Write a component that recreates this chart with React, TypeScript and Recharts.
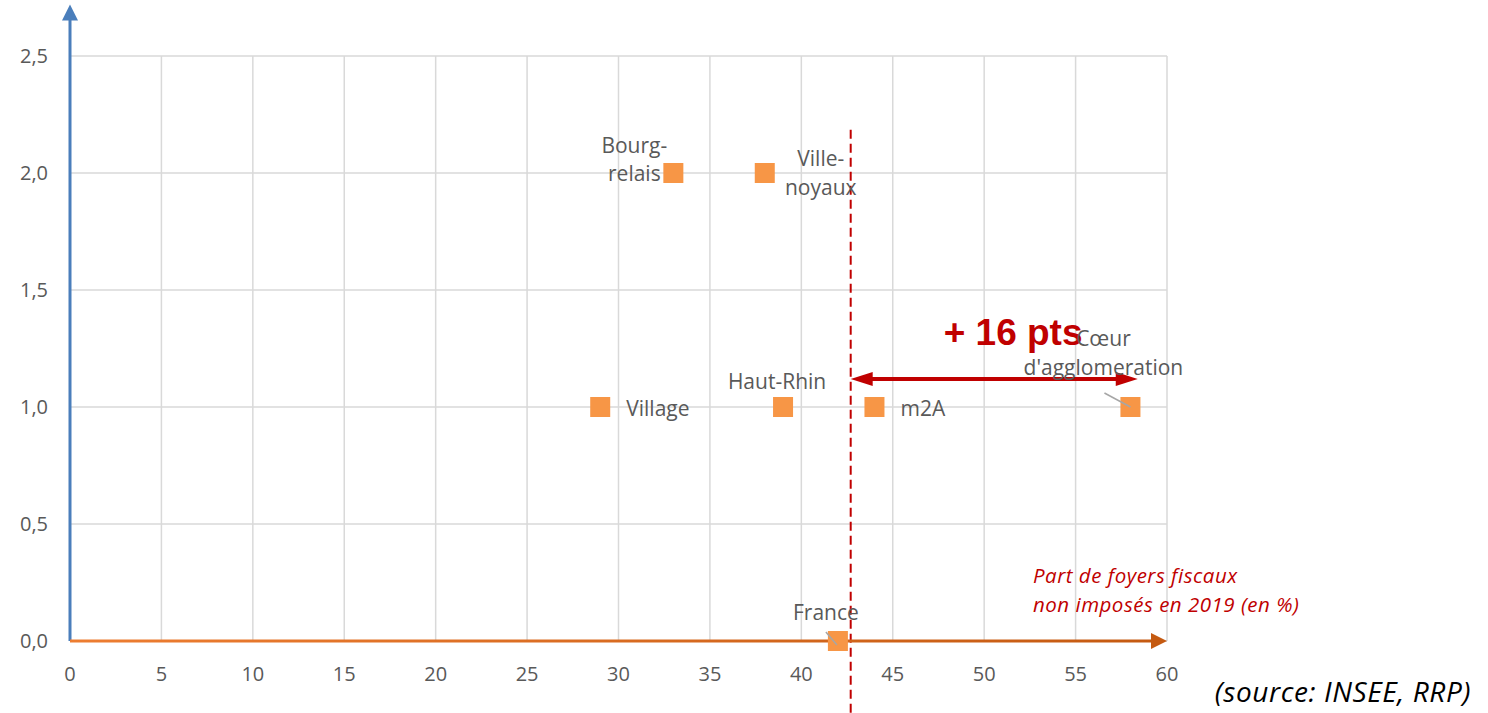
import React from 'react';
import { ScatterChart, Scatter, XAxis, YAxis, CartesianGrid, ReferenceLine } from 'recharts';

const names = ['Bourg-relais', 'Ville-noyaux', 'Village', 'Haut-Rhin', 'm2A', "Cœur d'agglomeration", 'France'];
const labelLines = [['Bourg-', 'relais'], ['Ville-', 'noyaux'], ['Village'], ['Haut-Rhin'], ['m2A'], ['Cœur', "d'agglomeration"], ['France']];
const xValues = [33, 38, 29, 39, 44, 58, 42];
const yValues = [2, 2, 1, 1, 1, 1, 0];
const xTicks = [0, 5, 10, 15, 20, 25, 30, 35, 40, 45, 50, 55, 60];
const yTicks = [0, 0.5, 1, 1.5, 2, 2.5];
const refX = 42.7;
const gapStart = 42.7;
const gapEnd = 58.4;
const gapY = 1.12;
const gapLabel = '+ 16 pts';
const axisLabelLines = ['Part de foyers fiscaux', 'non imposés en 2019 (en %)'];
const sourceText = '(source: INSEE, RRP)';

const points = names.map((n, i) => ({ name: n, x: xValues[i], y: yValues[i], lines: labelLines[i], idx: i }));

// label placement (styling only)
const labelLayout: { anchor: 'start' | 'middle' | 'end'; dx: number; dys: number[]; leader?: number[] }[] = [
  { anchor: 'middle', dx: -39, dys: [-28, 0] },
  { anchor: 'middle', dx: 56, dys: [-15, 14] },
  { anchor: 'start', dx: 26, dys: [1] },
  { anchor: 'middle', dx: -6, dys: [-26] },
  { anchor: 'start', dx: 26, dys: [1] },
  { anchor: 'middle', dx: -27, dys: [-69, -40], leader: [-26, -14, 0, 0] },
  { anchor: 'middle', dx: -12, dys: [-29], leader: [-12, -9, -1, 4] },
];

const FONT = "'Open Sans', sans-serif";
const TXT = '#595959';

const PointShape = (props: any) => {
  const { cx, cy, payload } = props;
  if (cx == null || cy == null) return null;
  const L = labelLayout[payload.idx];
  return (
    <g>
      <rect x={cx - 10} y={cy - 10} width={20} height={20} fill="#F79646" />
      {L.leader && (
        <line x1={cx + L.leader[0]} y1={cy + L.leader[1]} x2={cx + L.leader[2]} y2={cy + L.leader[3]} stroke="#A6A6A6" strokeWidth={1.5} />
      )}
      {payload.lines.map((t: string, k: number) => (
        <text key={k} x={cx + L.dx} y={cy + L.dys[k]} textAnchor={L.anchor} dominantBaseline="central" fontFamily={FONT} fontSize={21} fill={TXT}>
          {t}
        </text>
      ))}
    </g>
  );
};

const YArrow = (p: any) => {
  const { x1, y1, x2, y2 } = p;
  return (
    <g>
      <line x1={x1} y1={y1} x2={x2} y2={y2 + 14} stroke="#4A7EBB" strokeWidth={3} />
      <polygon points={`${x2},${y2} ${x2 - 8},${y2 + 16} ${x2 + 8},${y2 + 16}`} fill="#4A7EBB" />
    </g>
  );
};

const XArrow = (p: any) => {
  const { x1, y1, x2, y2 } = p;
  return (
    <g>
      <defs>
        <linearGradient id="xaxgrad" x1="0" y1="0" x2="1" y2="0">
          <stop offset="0%" stopColor="#ED7D31" />
          <stop offset="100%" stopColor="#C55A11" />
        </linearGradient>
      </defs>
      <rect x={x1} y={y1 - 1.5} width={x2 - x1 - 14} height={3} fill="url(#xaxgrad)" />
      <polygon points={`${x2},${y2} ${x2 - 16},${y2 - 8} ${x2 - 16},${y2 + 8}`} fill="#C55A11" />
    </g>
  );
};

const GapArrow = (p: any) => {
  const { x1, y1, x2, y2 } = p;
  const c = '#C00000';
  return (
    <g>
      <line x1={x1 + 18} y1={y1} x2={x2 - 18} y2={y2} stroke={c} strokeWidth={4} />
      <polygon points={`${x1},${y1} ${x1 + 22},${y1 - 7} ${x1 + 22},${y1 + 7}`} fill={c} />
      <polygon points={`${x2},${y2} ${x2 - 22},${y2 - 7} ${x2 - 22},${y2 + 7}`} fill={c} />
      <text x={x1 + 93} y={y1 - 46} dominantBaseline="central" fontFamily="'Liberation Sans', Arial, sans-serif" fontWeight="bold" fontSize={37} fill={c}>
        {gapLabel}
      </text>
    </g>
  );
};

const DashLine = (p: any) => {
  const { x1, y1, x2, y2 } = p;
  return <line x1={x1} y1={y1} x2={x2} y2={y2} stroke="#C00000" strokeWidth={2} strokeDasharray="9 5" />;
};

const fmtY = (v: number) => v.toFixed(1).replace('.', ',');

export default function App() {
  return (
    <div style={{ position: 'absolute', left: 0, top: 0, width: 1488, height: 713, background: '#fff', overflow: 'hidden' }}>
      <ScatterChart width={1488} height={713} margin={{ top: 56, right: 321, left: 0, bottom: 0 }}>
        <CartesianGrid stroke="#D9D9D9" strokeWidth={1.5} />
        <XAxis
          type="number"
          dataKey="x"
          domain={[0, 60]}
          ticks={xTicks}
          height={72}
          axisLine={false}
          tickLine={false}
          tickMargin={20}
          tick={{ fill: TXT, fontSize: 20, fontFamily: FONT }}
        />
        <YAxis
          type="number"
          dataKey="y"
          domain={[0, 2.5]}
          ticks={yTicks}
          width={70}
          axisLine={false}
          tickLine={false}
          tickMargin={16}
          tickFormatter={fmtY}
          tick={{ fill: TXT, fontSize: 20, fontFamily: FONT }}
        />
        <ReferenceLine segment={[{ x: refX, y: 2.185 }, { x: refX, y: -0.31 }]} ifOverflow="visible" shape={DashLine} />
        <ReferenceLine segment={[{ x: 0, y: 0 }, { x: 0, y: 2.72 }]} ifOverflow="visible" shape={YArrow} />
        <ReferenceLine segment={[{ x: 0, y: 0 }, { x: 60, y: 0 }]} ifOverflow="visible" shape={XArrow} />
        <ReferenceLine segment={[{ x: gapStart, y: gapY }, { x: gapEnd, y: gapY }]} ifOverflow="visible" shape={GapArrow} />
        <Scatter data={points} shape={PointShape} isAnimationActive={false} />
      </ScatterChart>
      <div style={{ position: 'absolute', left: 1033, top: 561, fontFamily: FONT, fontStyle: 'italic', fontSize: 20.5, letterSpacing: 0.5, lineHeight: '29px', color: '#C00000', whiteSpace: 'nowrap' }}>
        {axisLabelLines.map((t, i) => (
          <div key={i}>{t}</div>
        ))}
      </div>
      <div style={{ position: 'absolute', right: 17, top: 676, fontFamily: FONT, fontStyle: 'italic', fontSize: 28, letterSpacing: 0.6, lineHeight: '30px', color: '#000', whiteSpace: 'nowrap' }}>
        {sourceText}
      </div>
    </div>
  );
}
